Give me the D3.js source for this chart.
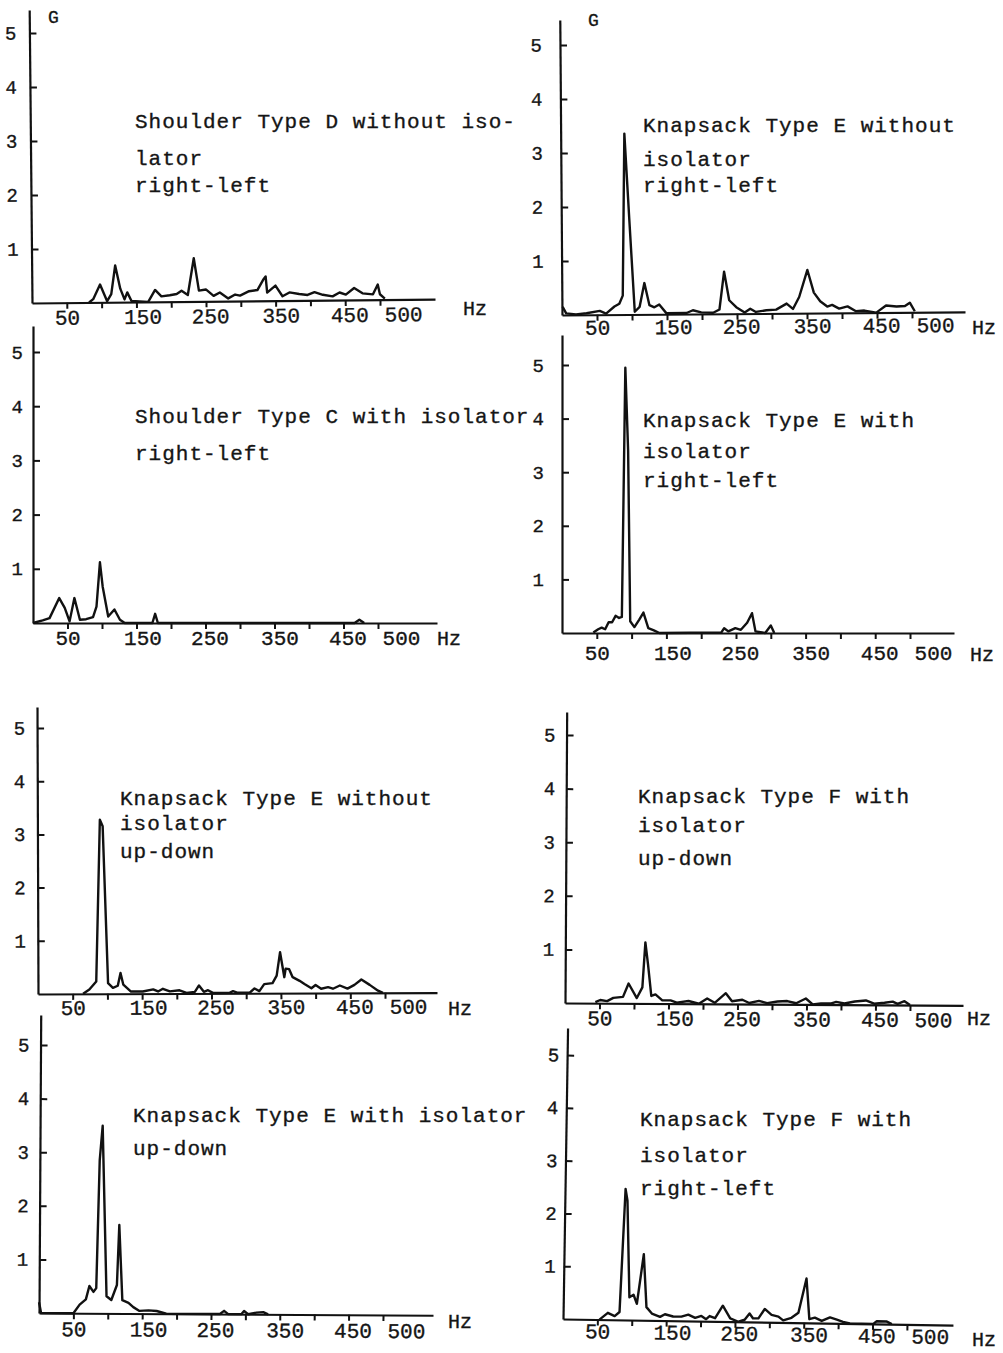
<!DOCTYPE html>
<html>
<head>
<meta charset="utf-8">
<script src="https://cdn.jsdelivr.net/npm/d3@7"></script>
<style>
  body { margin: 0; background: #fff; }
  text { font-family: "Liberation Mono", "DejaVu Sans Mono", monospace; fill: #151515; stroke: #151515; stroke-width: 0.35px; }
</style>
</head>
<body>
<div id="chart"></div>
<script>
// ticks shared by every panel
const yTicks = [1, 2, 3, 4, 5];
const xTicks = [50, 100, 150, 200, 250, 300, 350, 400, 450, 500];
const xTickLabels = [50, 150, 250, 350, 450, 500];

// spectra: frequency (Hz) and acceleration (G)
const shoulderDRLHz = [82, 88, 98, 108, 114, 120, 127, 133, 137, 143, 167, 177, 186, 198, 208, 215, 224, 233, 240, 250, 261, 270, 282, 292, 299, 312, 324, 333, 336, 338, 350, 360, 370, 384, 396, 406, 418, 432, 442, 451, 463, 475, 490, 497, 500, 507];
const shoulderDRLG = [0, 0.06, 0.33, 0.02, 0.15, 0.68, 0.25, 0.05, 0.18, 0.02, 0, 0.22, 0.1, 0.12, 0.14, 0.2, 0.12, 0.8, 0.2, 0.22, 0.1, 0.16, 0.05, 0.12, 0.1, 0.18, 0.2, 0.4, 0.45, 0.15, 0.28, 0.08, 0.15, 0.12, 0.1, 0.15, 0.1, 0.07, 0.14, 0.1, 0.22, 0.12, 0.1, 0.28, 0.1, 0.02];

const knapEOffRLHz = [1, 6, 20, 35, 54, 63, 75, 82, 87, 91, 97, 104, 111, 118, 125, 132, 139, 149, 178, 187, 199, 216, 225, 232, 239, 249, 261, 269, 277, 292, 306, 321, 330, 339, 351, 360, 369, 379, 386, 396, 408, 420, 432, 449, 463, 478, 490, 497, 504];
const knapEOffRLG = [0.15, 0.03, 0.01, 0.03, 0.07, 0.02, 0.15, 0.2, 0.35, 3.35, 1.8, 0.05, 0.14, 0.58, 0.17, 0.13, 0.18, 0.02, 0.02, 0.07, 0.03, 0.02, 0.08, 0.78, 0.25, 0.12, 0.02, 0.09, 0.03, 0.06, 0.07, 0.18, 0.08, 0.3, 0.8, 0.38, 0.22, 0.12, 0.15, 0.08, 0.12, 0.03, 0.04, 0, 0.13, 0.11, 0.12, 0.18, 0.02];

const shoulderCRLHz = [0, 14, 24, 38, 46, 53, 60, 68, 77, 87, 92, 97, 101, 109, 118, 126, 133, 173, 177, 181, 466, 473, 480];
const shoulderCRLG = [0, 0.05, 0.09, 0.46, 0.28, 0.03, 0.46, 0.06, 0.07, 0.11, 0.3, 1.12, 0.67, 0.12, 0.25, 0.06, 0, 0, 0.17, 0, 0, 0.06, 0];

const knapEOnRLHz = [45, 52, 57, 62, 67, 72, 77, 82, 86, 91, 95, 98, 104, 111, 117, 124, 132, 140, 229, 233, 239, 249, 257, 266, 273, 278, 292, 300, 305];
const knapEOnRLG = [0.01, 0.07, 0.1, 0.07, 0.2, 0.2, 0.32, 0.28, 0.3, 4.95, 3.4, 0.22, 0.11, 0.25, 0.38, 0.09, 0.05, 0, 0.01, 0.09, 0.03, 0.09, 0.06, 0.19, 0.37, 0.03, 0, 0.14, 0];

const knapEOffUDHz = [65, 74, 84, 90, 94, 101, 108, 115, 119, 123, 134, 151, 166, 173, 180, 190, 204, 214, 226, 232, 239, 245, 252, 276, 281, 288, 305, 312, 319, 326, 338, 344, 349, 355, 357, 362, 367, 377, 384, 394, 400, 408, 418, 425, 435, 446, 456, 466, 478, 490, 497];
const knapEOffUDG = [0, 0.08, 0.23, 3.27, 3.15, 0.2, 0.11, 0.15, 0.39, 0.17, 0.04, 0.04, 0.08, 0.04, 0.09, 0.04, 0.06, 0.01, 0.03, 0.15, 0.03, 0.06, 0.01, 0.01, 0.04, 0.01, 0.01, 0.09, 0.04, 0.17, 0.19, 0.33, 0.77, 0.3, 0.46, 0.45, 0.3, 0.23, 0.17, 0.09, 0.15, 0.08, 0.11, 0.08, 0.14, 0.08, 0.15, 0.25, 0.15, 0.04, 0];

const knapFOnUDHz = [44, 51, 61, 70, 84, 92, 104, 112, 116, 120, 125, 131, 141, 153, 162, 179, 194, 206, 217, 233, 242, 257, 267, 281, 293, 308, 322, 335, 349, 359, 371, 386, 393, 405, 420, 436, 448, 463, 475, 482, 492, 500];
const knapFOnUDG = [0.02, 0.06, 0.04, 0.1, 0.12, 0.37, 0.1, 0.3, 1.14, 0.73, 0.14, 0.17, 0.06, 0.06, 0.02, 0.05, 0, 0.1, 0.02, 0.2, 0.05, 0.08, 0.02, 0.06, 0.02, 0.05, 0.06, 0.02, 0.11, 0, 0.02, 0.02, 0.05, 0.02, 0.06, 0.08, 0.02, 0.04, 0.06, 0.02, 0.07, 0];

const knapEOnUDHz = [0, 3, 50, 59, 68, 73, 79, 83, 87, 91, 98, 105, 113, 116, 121, 130, 137, 146, 159, 171, 185, 263, 269, 275, 294, 298, 304, 316, 326, 333];
const knapEOnUDG = [0.2, 0, 0, 0.16, 0.26, 0.51, 0.4, 0.47, 2.86, 3.5, 0.32, 0.25, 0.53, 1.65, 0.25, 0.2, 0.12, 0.05, 0.06, 0.05, 0, 0, 0.06, 0, 0, 0.06, 0, 0.03, 0.04, 0];

const knapFOnRLHz = [53, 65, 75, 82, 88, 91, 96, 102, 107, 116, 121, 129, 141, 148, 160, 172, 182, 192, 201, 208, 213, 221, 232, 243, 255, 264, 271, 276, 284, 293, 303, 313, 320, 332, 342, 353, 358, 366, 376, 388, 398, 407, 417, 451, 456, 470, 478];
const knapFOnRLG = [0, 0.13, 0.07, 0.15, 2.48, 2.26, 0.43, 0.48, 0.31, 1.25, 0.25, 0.13, 0.07, 0.12, 0.08, 0.08, 0.12, 0.06, 0.1, 0.04, 0.1, 0.06, 0.3, 0.06, 0, 0.04, 0.16, 0.07, 0.07, 0.25, 0.14, 0.11, 0.04, 0.09, 0.19, 0.84, 0.07, 0.1, 0.04, 0.11, 0.07, 0.03, 0, 0, 0.05, 0.05, 0];

// where each hand-drawn panel sits on the page
const panels = [
  { freq: shoulderDRLHz, amp: shoulderDRLG, title: ["Shoulder Type D without iso-", "lator", "right-left"],
    x0: 32, y0: 303, y5: 33, top: 10, right: 435, hz500: 380, yPad: 13, tx: 135, ty: [128, 165, 192],
    labelY: 22, hzX: 463, hzY: 315, gLabel: [48, 23], tilt: -0.55 },
  { freq: knapEOffRLHz, amp: knapEOffRLG, title: ["Knapsack Type E without", "isolator", "right-left"],
    x0: 562, y0: 315, y5: 45, top: 20, right: 965, hz500: 912, yPad: 18, tx: 643, ty: [132, 166, 192],
    labelY: 20, hzX: 972, hzY: 334, gLabel: [588, 26], tilt: -0.43 },
  { freq: shoulderCRLHz, amp: shoulderCRLG, title: ["Shoulder Type C with isolator", "right-left"],
    x0: 33, y0: 623, y5: 352, top: 326, right: 437, hz500: 378, yPad: 10, tx: 135, ty: [423, 460],
    labelY: 22, hzX: 437, hzY: 645, tilt: 0 },
  { freq: knapEOnRLHz, amp: knapEOnRLG, title: ["Knapsack Type E with", "isolator", "right-left"],
    x0: 562, y0: 633, y5: 365, top: 335, right: 954, hz500: 910, yPad: 18, tx: 643, ty: [427, 458, 487],
    labelY: 27, hzX: 970, hzY: 661, tilt: 0 },
  { freq: knapEOffUDHz, amp: knapEOffUDG, title: ["Knapsack Type E without", "isolator", "up-down"],
    x0: 38, y0: 994, y5: 728, top: 707, right: 437, hz500: 385, yPad: 12, tx: 120, ty: [805, 830, 858],
    labelY: 21, hzX: 448, hzY: 1015, tilt: -0.2 },
  { freq: knapFOnUDHz, amp: knapFOnUDG, title: ["Knapsack Type F with", "isolator", "up-down"],
    x0: 565, y0: 1003, y5: 735, top: 712, right: 963, hz500: 910, yPad: 11, tx: 638, ty: [803, 832, 865],
    labelY: 22, hzX: 967, hzY: 1025, tilt: 0.33 },
  { freq: knapEOnUDHz, amp: knapEOnUDG, title: ["Knapsack Type E with isolator", "up-down"],
    x0: 39, y0: 1313, y5: 1045, top: 1015, right: 433, hz500: 383, yPad: 11, tx: 133, ty: [1122, 1155],
    labelY: 23, hzX: 448, hzY: 1328, tilt: 0.33 },
  { freq: knapFOnRLHz, amp: knapFOnRLG, title: ["Knapsack Type F with", "isolator", "right-left"],
    x0: 563, y0: 1319, y5: 1055, top: 1028, right: 953, hz500: 907, yPad: 8, tx: 640, ty: [1126, 1162, 1195],
    labelY: 19, hzX: 972, hzY: 1346, tilt: 0.9 }
];

// the typed labels sit a little right of their ticks
const labelNudge = { 150: 6, 250: 4, 350: 5, 450: 4, 500: 23 };

const svg = d3.select("#chart")
  .append("svg")
  .attr("width", 1003)
  .attr("height", 1353);

panels.forEach(p => {
  const unit = (p.y0 - p.y5) / 5;
  const pxHz = (p.hz500 - p.x0) / 500;

  const x = d3.scaleLinear()
    .domain([0, (p.right - p.x0) / pxHz])
    .range([p.x0, p.right]);
  const y = d3.scaleLinear()
    .domain([0, (p.y0 - p.top) / unit])
    .range([p.y0, p.top]);

  const g = svg.append("g")
    .attr("transform", `rotate(${p.tilt},${p.x0},${p.y0})`);

  // X axis
  const xAxis = g.append("g")
    .attr("transform", `translate(0,${p.y0})`)
    .call(d3.axisBottom(x)
      .tickValues(xTicks)
      .tickSize(6)
      .tickSizeOuter(0)
      .tickFormat(d => xTickLabels.includes(d) ? d : ""));
  xAxis.attr("font-size", null).attr("font-family", null);
  xAxis.selectAll("text")
    .attr("y", p.labelY)
    .attr("dy", 0)
    .attr("dx", d => labelNudge[d] || 0)
    .style("font-size", "21px");

  // Y axis, ticks point inward
  const yAxis = g.append("g")
    .attr("transform", `translate(${p.x0},0)`)
    .call(d3.axisLeft(y)
      .tickValues(yTicks)
      .tickSize(-7)
      .tickSizeOuter(0)
      .tickPadding(p.yPad)
      .tickFormat(d3.format("d")));
  yAxis.attr("font-size", null).attr("font-family", null);
  yAxis.selectAll("text").style("font-size", "19px");

  g.selectAll(".domain").attr("stroke", "#111").attr("stroke-width", 2.2);
  g.selectAll(".tick line").attr("stroke", "#111").attr("stroke-width", 2);

  // spectrum trace
  const line = d3.line()
    .x((d, i) => x(p.freq[i]))
    .y(d => y(d));
  g.append("path")
    .datum(p.amp)
    .attr("fill", "none")
    .attr("stroke", "#111")
    .attr("stroke-width", 2.4)
    .attr("stroke-linejoin", "round")
    .attr("d", line);

  // caption
  const cap = svg.append("text")
    .attr("x", p.tx)
    .style("font-size", "21px")
    .style("letter-spacing", "1px");
  p.title.forEach((t, i) => {
    cap.append("tspan").attr("x", p.tx).attr("y", p.ty[i]).text(t);
  });

  svg.append("text")
    .attr("x", p.hzX)
    .attr("y", p.hzY)
    .style("font-size", "20px")
    .text("Hz");

  if (p.gLabel) {
    svg.append("text")
      .attr("x", p.gLabel[0])
      .attr("y", p.gLabel[1])
      .style("font-size", "18px")
      .text("G");
  }
});
</script>
</body>
</html>
